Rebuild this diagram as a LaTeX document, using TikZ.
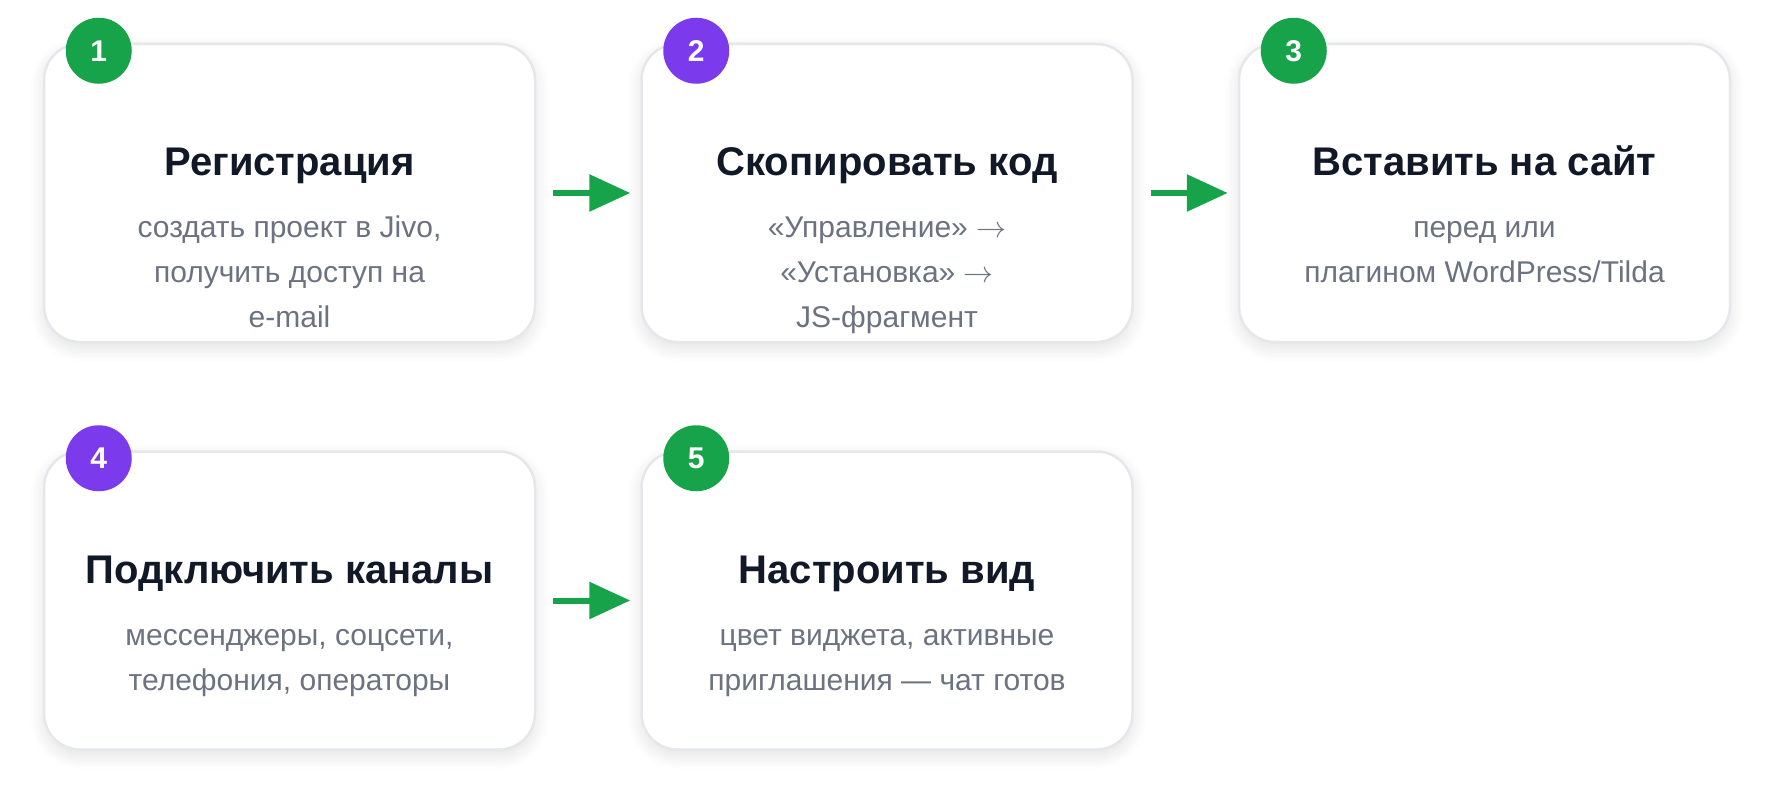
\RequirePackage{fix-cm}
\documentclass[tikz,border=0pt]{standalone}
\usepackage{fontspec}
\setmainfont{Liberation Sans}
\usetikzlibrary{arrows.meta,positioning,shadows.blur}
\definecolor{stepgreen}{HTML}{16A34A}
\definecolor{steppurple}{HTML}{7C3AED}
\definecolor{cardline}{HTML}{E5E7EB}
\definecolor{titleink}{HTML}{111827}
\definecolor{descink}{HTML}{6B7280}
\tikzset{
card/.style={draw=cardline, line width=2.5pt, fill=white, rounded corners=36pt, minimum width=491pt, minimum height=298pt, inner sep=0pt, blur shadow={shadow blur steps=12, shadow xshift=0pt, shadow yshift=-6pt, shadow opacity=12, shadow blur radius=14pt}},
badge/.style={circle, fill=#1, text=white, minimum size=66pt, inner sep=0pt, font=\fontsize{30}{30}\selectfont\bfseries},
cardtitle/.style={text=titleink, font=\fontsize{40}{48}\selectfont\bfseries, anchor=base},
carddesc/.style={text=descink, font=\fontsize{30}{45}\selectfont, align=center, anchor=base},
flow/.style={draw=stepgreen, line width=6pt, -{Triangle[length=41pt,width=36pt]}, shorten <=17pt, shorten >=10pt}
}
\begin{document}
\begin{tikzpicture}[x=1pt,y=-1pt]
\useasboundingbox (0,0) rectangle (1772,792);

% first row
\node[card] (box1) at (289.5,193) {};
\node[card, right=104pt of box1] (box2) {};
\node[card, right=104pt of box2] (box3) {};
% second row
\node[card, below=107pt of box1] (box4) {};
\node[card, right=104pt of box4] (box5) {};

\node[badge=stepgreen, xshift=56pt, yshift=-8pt] (n1) at (box1.north west) {1};
\node[badge=steppurple, xshift=56pt, yshift=-8pt] (n2) at (box2.north west) {2};
\node[badge=stepgreen, xshift=56pt, yshift=-8pt] (n3) at (box3.north west) {3};
\node[badge=steppurple, xshift=56pt, yshift=-8pt] (n4) at (box4.north west) {4};
\node[badge=stepgreen, xshift=56pt, yshift=-8pt] (n5) at (box5.north west) {5};

% base of a description is its last line
\node[cardtitle] (t1) at ([yshift=-133pt]box1.north) {Регистрация};
\node[carddesc] (d1) at ([yshift=-285pt]box1.north) {создать проект в Jivo,\\получить доступ на\\e-mail};
\node[cardtitle] (t2) at ([yshift=-133pt]box2.north) {Скопировать код};
\node[carddesc] (d2) at ([yshift=-285pt]box2.north) {«Управление» $\rightarrow$\\«Установка» $\rightarrow$\\JS-фрагмент};
\node[cardtitle] (t3) at ([yshift=-133pt]box3.north) {Вставить на сайт};
\node[carddesc] (d3) at ([yshift=-240pt]box3.north) {перед или\\плагином WordPress/Tilda};
\node[cardtitle] (t4) at ([yshift=-133pt]box4.north) {Подключить каналы};
\node[carddesc] (d4) at ([yshift=-240pt]box4.north) {мессенджеры, соцсети,\\телефония, операторы};
\node[cardtitle] (t5) at ([yshift=-133pt]box5.north) {Настроить вид};
\node[carddesc] (d5) at ([yshift=-240pt]box5.north) {цвет виджета, активные\\приглашения — чат готов};

\draw[flow] (box1) -- (box2);
\draw[flow] (box2) -- (box3);
\draw[flow] (box4) -- (box5);
\end{tikzpicture}
\end{document}
